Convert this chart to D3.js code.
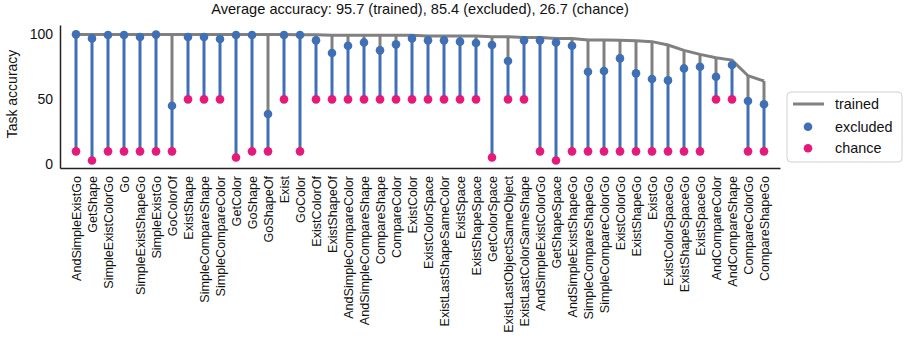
<!DOCTYPE html>
<html>
<head>
<meta charset="utf-8">
<script src="https://cdn.jsdelivr.net/npm/d3@7"></script>
<style>
  html, body { margin: 0; padding: 0; background: #fff; }
  svg { display: block; font-family: "Liberation Sans", Arial, Helvetica, sans-serif; }
</style>
</head>
<body>
<svg id="chart" width="906" height="338"></svg>
<script>
const tasks = ["AndSimpleExistGo","GetShape","SimpleExistColorGo","Go","SimpleExistShapeGo","SimpleExistGo","GoColorOf","ExistShape","SimpleCompareShape","SimpleCompareColor","GetColor","GoShape","GoShapeOf","Exist","GoColor","ExistColorOf","ExistShapeOf","AndSimpleCompareColor","AndSimpleCompareShape","CompareShape","CompareColor","ExistColor","ExistColorSpace","ExistLastShapeSameColor","ExistSpace","ExistShapeSpace","GetColorSpace","ExistLastObjectSameObject","ExistLastColorSameShape","AndSimpleExistColorGo","GetShapeSpace","AndSimpleExistShapeGo","SimpleCompareShapeGo","SimpleCompareColorGo","ExistColorGo","ExistShapeGo","ExistGo","ExistColorSpaceGo","ExistShapeSpaceGo","ExistSpaceGo","AndCompareColor","AndCompareShape","CompareColorGo","CompareShapeGo"];

const trained = [99.9,99.9,99.9,99.9,99.9,99.9,99.9,99.9,99.9,99.9,99.9,99.9,99.9,99.9,99.7,99.7,
                 99.3,99.3,99.3,99.3,99.3,99.3,98.8,98.8,98.8,98.8,98.2,98.2,97.5,97.5,
                 96.9,96.9,95.6,95.6,95.4,95.1,94.4,91.8,87.7,84.6,82.0,80.2,68.2,64.1];

const excluded = [100,96.9,99.5,99.5,98.0,99.8,45.1,98.0,98.0,96.4,99.5,99.5,38.7,99.5,99.5,
                  95.4,85.6,91.2,93.8,87.7,92.3,96.9,95.4,95.4,94.4,93.3,91.8,79.5,95.4,95.4,
                  93.8,91.2,71.2,71.8,81.5,70.0,65.6,64.6,73.8,75.1,67.4,76.4,48.7,46.2];

const chance = [10,3.0,10,10,10,10,10,50,50,50,5.3,10,10,50,10,50,50,50,50,50,50,50,50,50,50,50,5.3,50,50,10,
                3.0,10,10,10,10,10,10,10,10,10,50,50,10,10];

const yTicks = [0, 50, 100];
const title = "Average accuracy: 95.7 (trained), 85.4 (excluded), 26.7 (chance)";
const legendLabels = ["trained", "excluded", "chance"];

const colTrained = "#808080", colExcl = "#3f6fb4", colChance = "#e6197a";

const svg = d3.select("#chart");
const x = d3.scalePoint().domain(tasks).range([60, 780]).padding(1);
const y = d3.scaleLinear().domain([-2.8, 107.2]).range([168, 25]);

const data = tasks.map((t, i) => ({t, tr: trained[i], ex: excluded[i], ch: chance[i]}));

// title
svg.append("text").attr("x", 420).attr("y", 14).attr("text-anchor", "middle")
  .attr("font-size", "14.6px").attr("fill", "#111").text(title);

// gray stems trained -> excluded
svg.append("g").selectAll("line").data(data).join("line")
  .attr("x1", d => x(d.t)).attr("x2", d => x(d.t))
  .attr("y1", d => y(d.tr)).attr("y2", d => y(d.ex))
  .attr("stroke", colTrained).attr("stroke-width", 3);

// trained line
svg.append("path").datum(data)
  .attr("d", d3.line().x(d => x(d.t)).y(d => y(d.tr)))
  .attr("fill", "none").attr("stroke", colTrained).attr("stroke-width", 3);

// blue stems excluded -> chance
svg.append("g").selectAll("line").data(data).join("line")
  .attr("x1", d => x(d.t)).attr("x2", d => x(d.t))
  .attr("y1", d => y(d.ex)).attr("y2", d => y(d.ch))
  .attr("stroke", colExcl).attr("stroke-width", 3);

// chance dots
svg.append("g").selectAll("circle").data(data).join("circle")
  .attr("cx", d => x(d.t)).attr("cy", d => y(d.ch)).attr("r", 4.3).attr("fill", colChance);

// excluded dots
svg.append("g").selectAll("circle").data(data).join("circle")
  .attr("cx", d => x(d.t)).attr("cy", d => y(d.ex)).attr("r", 4.3).attr("fill", colExcl);

// axes
const yAxis = svg.append("g").attr("transform", "translate(60,0)")
  .call(d3.axisLeft(y).tickValues(yTicks).tickSize(0).tickSizeOuter(0).tickPadding(7));
yAxis.selectAll("text").attr("font-size", "14px").attr("fill", "#111")
  .attr("font-family", "Liberation Sans, Arial, sans-serif");
yAxis.select(".domain").attr("stroke", "#222").attr("stroke-width", 1.5);

const xAxis = svg.append("g").attr("transform", "translate(0,168)")
  .call(d3.axisBottom(x).tickSize(0).tickSizeOuter(0));
xAxis.select(".domain").attr("stroke", "#222").attr("stroke-width", 1.5);
xAxis.selectAll("text")
  .attr("font-size", "12.6px").attr("fill", "#111")
  .attr("font-family", "Liberation Sans, Arial, sans-serif")
  .attr("text-anchor", "end")
  .attr("transform", "rotate(-90)")
  .attr("x", -8).attr("y", 0).attr("dy", "0.35em");

// y label
svg.append("text").attr("transform", "translate(17,94) rotate(-90)")
  .attr("text-anchor", "middle").attr("font-size", "14px").attr("fill", "#111")
  .text("Task accuracy");

// legend
const lg = svg.append("g");
lg.append("rect").attr("x", 787).attr("y", 92).attr("width", 115).attr("height", 70)
  .attr("rx", 4).attr("fill", "#fff").attr("stroke", "#d0d0d0").attr("stroke-width", 1);
const ly = [104, 126.7, 148.3];
lg.append("line").attr("x1", 793).attr("x2", 824).attr("y1", ly[0]).attr("y2", ly[0])
  .attr("stroke", colTrained).attr("stroke-width", 3);
lg.append("circle").attr("cx", 808).attr("cy", ly[1]).attr("r", 4.3).attr("fill", colExcl);
lg.append("circle").attr("cx", 808).attr("cy", ly[2]).attr("r", 4.3).attr("fill", colChance);
legendLabels.forEach((l, i) => {
  lg.append("text").attr("x", 835).attr("y", ly[i]).attr("dy", "0.35em")
    .attr("font-size", "14.4px").attr("fill", "#111").text(l);
});
</script>
</body>
</html>
